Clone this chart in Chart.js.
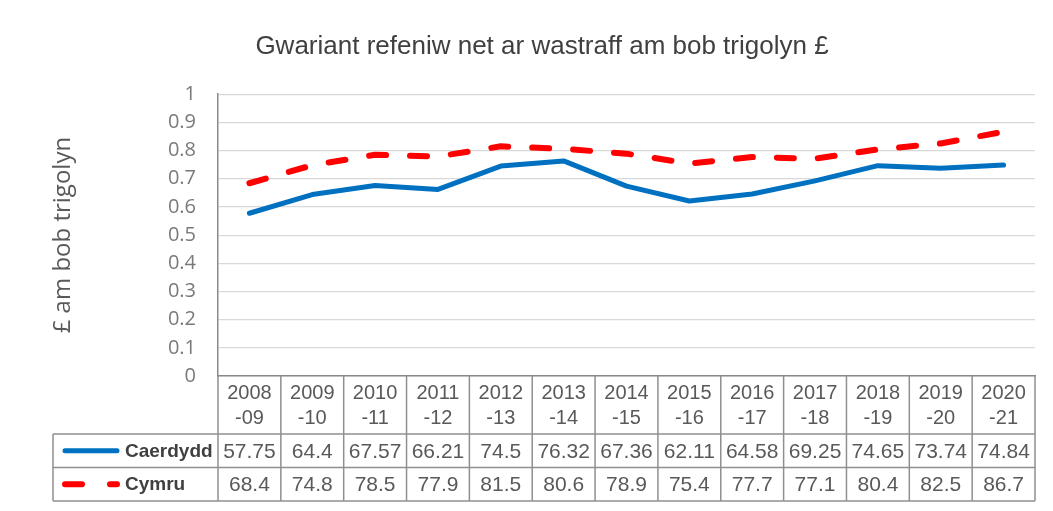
<!DOCTYPE html>
<html>
<head>
<meta charset="utf-8">
<script src="https://cdn.jsdelivr.net/npm/chart.js@4.4.1/dist/chart.umd.min.js"></script>
<style>
    html, body { margin: 0; padding: 0; background: #fff; }
    #wrap { width: 1053px; height: 511px; }
</style>
</head>
<body>
<div id="wrap"><canvas id="chart"></canvas></div>
<script>
const years = [
    ['2008', '-09'], ['2009', '-10'], ['2010', '-11'], ['2011', '-12'], ['2012', '-13'],
    ['2013', '-14'], ['2014', '-15'], ['2015', '-16'], ['2016', '-17'], ['2017', '-18'],
    ['2018', '-19'], ['2019', '-20'], ['2020', '-21']
];
const caerdydd = [57.75, 64.4, 67.57, 66.21, 74.5, 76.32, 67.36, 62.11, 64.58, 69.25, 74.65, 73.74, 74.84];
const cymru = [68.4, 74.8, 78.5, 77.9, 81.5, 80.6, 78.9, 75.4, 77.7, 77.1, 80.4, 82.5, 86.7];
const yTickLabels = ['0', '0.1', '0.2', '0.3', '0.4', '0.5', '0.6', '0.7', '0.8', '0.9', '1'];

const tableGrey = '#8f8f8f';
const textGrey = '#595959';

// data table under the plot: legend column + one row per series
const dataTable = {
    id: 'dataTable',
    afterDraw(chart) {
        const ctx = chart.ctx;
        const xs = chart.scales.x;
        const area = chart.chartArea;
        const rowH = 33.5;
        const top = xs.bottom;
        const bottom = top + rowH * 2;
        const left = 53;
        const right = xs.right;

        const line = (x1, y1, x2, y2) => {
            ctx.beginPath();
            ctx.moveTo(x1, y1);
            ctx.lineTo(x2, y2);
            ctx.stroke();
        };

        ctx.save();
        ctx.strokeStyle = tableGrey;
        ctx.lineWidth = 1.5;
        for (let r = 0; r <= 2; r++) line(left, top + r * rowH, right, top + r * rowH);
        line(left, top, left, bottom);
        for (let i = 0; i <= years.length; i++) {
            const bx = xs.getPixelForValue(i - 0.5);
            line(bx, area.bottom, bx, bottom);
        }

        ctx.fillStyle = textGrey;
        ctx.font = '21px "Liberation Sans", Arial, sans-serif';
        ctx.textAlign = 'center';
        ctx.textBaseline = 'middle';
        chart.data.datasets.forEach((ds, r) => {
            const cy = top + rowH * r + rowH / 2 + 1;
            ds.raw.forEach((v, i) => {
                ctx.fillText(String(v), xs.getPixelForValue(i), cy);
            });

            // legend key
            ctx.save();
            ctx.strokeStyle = ds.borderColor;
            ctx.lineWidth = ds.borderWidth;
            ctx.lineCap = 'round';
            ctx.setLineDash(ds.borderDash ? [17, 28] : []);
            line(65, cy - 1, 117, cy - 1);
            ctx.restore();

            ctx.save();
            ctx.fillStyle = '#404040';
            ctx.font = 'bold 19px "Liberation Sans", Arial, sans-serif';
            ctx.textAlign = 'left';
            ctx.fillText(ds.label, 125, cy);
            ctx.restore();
        });
        ctx.restore();
    }
};

new Chart(document.getElementById('chart'), {
    type: 'line',
    data: {
        labels: years,
        datasets: [
            {
                label: 'Caerdydd',
                raw: caerdydd,
                data: caerdydd.map((v) => v / 100),
                borderColor: '#0070c0',
                borderWidth: 5,
                borderCapStyle: 'round',
                borderJoinStyle: 'round',
                pointRadius: 0,
                tension: 0
            },
            {
                label: 'Cymru',
                raw: cymru,
                data: cymru.map((v) => v / 100),
                borderColor: '#ff0000',
                borderWidth: 6,
                borderDash: [17, 24],
                borderCapStyle: 'round',
                borderJoinStyle: 'round',
                pointRadius: 0,
                tension: 0
            }
        ]
    },
    options: {
        responsive: true,
        maintainAspectRatio: false,
        animation: false,
        layout: { padding: { left: 49, right: 18, top: 0, bottom: 77 } },
        plugins: {
            legend: { display: false },
            tooltip: { enabled: false },
            title: {
                display: true,
                text: 'Gwariant refeniw net ar wastraff am bob trigolyn £',
                color: '#404040',
                font: { family: '"Liberation Sans", Arial, sans-serif', size: 26, weight: 'normal' },
                padding: { top: 31, bottom: 32 }
            }
        },
        scales: {
            x: {
                offset: true,
                grid: { display: false },
                border: { display: true, color: '#8a8a8a', width: 1.5 },
                ticks: {
                    color: textGrey,
                    font: { family: '"Liberation Sans", Arial, sans-serif', size: 20, lineHeight: '25px' },
                    padding: -3,
                    maxRotation: 0,
                    autoSkip: false
                },
                afterFit: (s) => { s.height = 58; }
            },
            y: {
                min: 0,
                max: 1,
                grid: { color: '#d9d9d9', lineWidth: 1.2, drawTicks: false },
                border: { display: true, color: '#8a8a8a', width: 1.5 },
                ticks: {
                    stepSize: 0.1,
                    autoSkip: false,
                    color: '#7a7a7a',
                    padding: 22,
                    font: { family: '"Open Sans", sans-serif', size: 20 },
                    callback: (v, i) => yTickLabels[i]
                },
                title: {
                    display: true,
                    text: '£ am bob trigolyn',
                    color: textGrey,
                    padding: 0,
                    font: { family: '"Open Sans", sans-serif', size: 24 }
                },
                afterFit: (s) => { s.width = 169; }
            }
        }
    },
    plugins: [dataTable]
});
</script>
</body>
</html>
